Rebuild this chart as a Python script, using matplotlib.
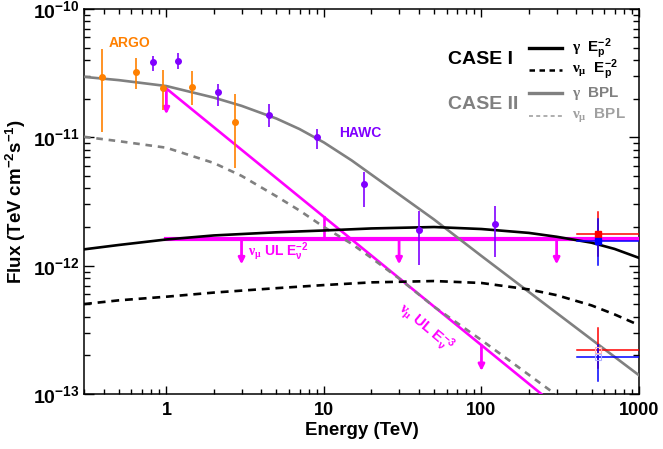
import numpy as np
import matplotlib
matplotlib.use('Agg')
import matplotlib.pyplot as plt
from matplotlib.ticker import FixedLocator, FixedFormatter, LogLocator, NullFormatter

plt.rcParams['font.family'] = 'Liberation Sans'
plt.rcParams['font.weight'] = 'bold'
plt.rcParams['mathtext.fontset'] = 'custom'
plt.rcParams['mathtext.rm'] = 'Liberation Serif'
plt.rcParams['mathtext.it'] = 'Liberation Serif:italic'
plt.rcParams['mathtext.bf'] = 'Liberation Sans:bold'
plt.rcParams['mathtext.sf'] = 'Liberation Sans'

# ---- data (E in TeV, flux in TeV cm^-2 s^-1) ----
argo_E = [0.39, 0.644, 0.947, 1.45, 2.74]
argo_F = [2.94e-11, 3.25e-11, 2.41e-11, 2.47e-11, 1.31e-11]
argo_lo = [1.11e-11, 2.37e-11, 1.63e-11, 1.79e-11, 5.73e-12]
argo_hi = [4.85e-11, 4.13e-11, 3.35e-11, 3.29e-11, 2.16e-11]

hawc_E = [0.822, 1.18, 2.13, 4.48, 9.1, 17.9, 40.1, 122]
hawc_F = [3.85e-11, 3.95e-11, 2.25e-11, 1.49e-11, 1.01e-11, 4.35e-12, 1.9e-12, 2.1e-12]
hawc_lo = [3.3e-11, 3.43e-11, 1.75e-11, 1.2e-11, 8.1e-12, 2.88e-12, 1.02e-12, 1.17e-12]
hawc_hi = [4.31e-11, 4.57e-11, 2.6e-11, 1.82e-11, 1.16e-11, 5.33e-12, 2.67e-12, 2.93e-12]

# gamma / neutrino model curves
gbpl_E = [0.3, 0.5, 1, 2, 3, 5, 7, 10, 15, 20, 30, 50, 100, 200, 500, 1000]
gbpl_F = [2.96e-11, 2.79e-11, 2.51e-11, 2.04e-11, 1.76e-11, 1.40e-11, 1.16e-11, 9.12e-12,
          6.61e-12, 5.13e-12, 3.59e-12, 2.29e-12, 1.19e-12, 6.24e-13, 2.66e-13, 1.40e-13]
nbpl_E = [0.3, 0.5, 1, 2, 3, 5, 7, 10, 15, 20, 30, 50, 100, 200, 300, 500]
nbpl_F = [1.01e-11, 9.33e-12, 8.3e-12, 6.31e-12, 5.01e-12, 3.47e-12, 2.69e-12, 2.0e-12,
          1.48e-12, 1.15e-12, 7.94e-13, 4.79e-13, 2.63e-13, 1.41e-13, 9.8e-14, 6.0e-14]
gpl_E = [0.3, 0.5, 1, 2, 5, 10, 20, 50, 100, 200, 300, 500, 700, 1000]
gpl_F = [1.34e-12, 1.45e-12, 1.6e-12, 1.72e-12, 1.82e-12, 1.88e-12, 1.95e-12, 2.0e-12,
         1.93e-12, 1.80e-12, 1.68e-12, 1.51e-12, 1.35e-12, 1.15e-12]
npl_E = [0.3, 0.5, 1, 2, 5, 10, 20, 50, 100, 200, 300, 500, 700, 1000]
npl_F = [5.02e-13, 5.37e-13, 5.73e-13, 6.17e-13, 6.68e-13, 7.06e-13, 7.41e-13, 7.59e-13,
         7.33e-13, 6.53e-13, 5.89e-13, 4.9e-13, 4.17e-13, 3.44e-13]

# neutrino upper limits
ul3_E = [1, 250]
ul3_F = [2.4e-11, 9.6e-14]
ul3_arrow_E = [1, 100]
ul2_E = [1, 1000]
ul2_F = [1.6e-12, 1.6e-12]
ul2_arrow_E = [3, 30, 300]

# high energy points (red / blue)
he_E = 548
he_xlo, he_xhi = 405, 1000
red_F, red_lo, red_hi = [1.77e-12, 2.22e-13], [1.2e-12, 1.6e-13], [2.63e-12, 3.24e-13]
blue_F, blue_lo, blue_hi = [1.56e-12, 1.95e-13], [1.02e-12, 1.27e-13], [2.3e-12, 2.4e-13]

orange = '#FF8000'
purple = '#8000FF'
mag = '#FF00FF'
grey = '#808080'

fig = plt.figure(figsize=(6.63, 4.49), dpi=100)
ax = fig.add_axes([84 / 663, 55 / 449, 555 / 663, 385 / 449])
ax.set_xscale('log')
ax.set_yscale('log')
ax.set_xlim(0.3, 1000)
ax.set_ylim(1e-13, 1e-10)


def ul3_at(e):
    k = np.log10(ul3_F[1] / ul3_F[0]) / np.log10(ul3_E[1] / ul3_E[0])
    return ul3_F[0] * (e / ul3_E[0]) ** k


# upper limits
ax.plot(ul3_E, ul3_F, color=mag, lw=1.9, zorder=3)
ax.plot(ul2_E, ul2_F, color=mag, lw=3.0, zorder=3)
ax.plot([10, 10], [ul2_F[0], ul3_at(10)], color=mag, lw=1.9, zorder=3)
for e in ul3_arrow_E:
    f0 = ul3_at(e)
    ax.annotate('', xy=(e, f0 * 0.63), xytext=(e, f0),
                arrowprops=dict(arrowstyle='-|>', color=mag, lw=2, mutation_scale=9,
                                shrinkA=0, shrinkB=0), zorder=3)
for e in ul2_arrow_E:
    ax.annotate('', xy=(e, ul2_F[0] * 0.64), xytext=(e, ul2_F[0]),
                arrowprops=dict(arrowstyle='-|>', color=mag, lw=2, mutation_scale=9,
                                shrinkA=0, shrinkB=0), zorder=3)

# model curves
ax.plot(gbpl_E, gbpl_F, color=grey, lw=1.9, zorder=4)
ax.plot(nbpl_E, nbpl_F, color=grey, lw=1.9, ls=(0, (2.5, 2.2)), zorder=4)
ax.plot(gpl_E, gpl_F, color='black', lw=1.9, zorder=4)
ax.plot(npl_E, npl_F, color='black', lw=1.9, ls=(0, (3.0, 2.2)), zorder=4)

# data
ax.errorbar(argo_E, argo_F,
            yerr=[np.array(argo_F) - np.array(argo_lo), np.array(argo_hi) - np.array(argo_F)],
            fmt='o', color=orange, ms=4, elinewidth=1.2, capsize=0, zorder=5)
ax.errorbar(hawc_E, hawc_F,
            yerr=[np.array(hawc_F) - np.array(hawc_lo), np.array(hawc_hi) - np.array(hawc_F)],
            fmt='o', color=purple, ms=4, elinewidth=1.2, capsize=0, zorder=5)

for F, lo, hi, c in [(red_F, red_lo, red_hi, 'red'), (blue_F, blue_lo, blue_hi, 'blue')]:
    for i in range(2):
        ax.plot([he_xlo, he_xhi], [F[i], F[i]], color=c, lw=1.1, zorder=6)
        ax.plot([he_E, he_E], [lo[i], hi[i]], color=c, lw=1.1, zorder=6)
    ax.plot([he_E], [F[0]], 's', color=c, ms=5, zorder=7)
    ax.plot([he_E], [F[1]], 's', mfc='none', mec='#FFB0B0' if c == 'red' else '#B0B0FF',
            ms=5, mew=0.8, zorder=7)

# labels on the plot
ax.text(0.584, 5.43e-11, 'ARGO', color=orange, fontsize=10, ha='center', va='center')
ax.text(17.0, 1.08e-11, 'HAWC', color=purple, fontsize=10, ha='center', va='center')
ax.text(3.3, 1.28e-12, r'$\mathrm{\nu_\mu}$ $\mathbf{UL\ E_\nu^{-2}}$', color=mag,
        fontsize=10, ha='left', va='center')
ax.text(44, 3.3e-13, r'$\mathrm{\nu_\mu}$ $\mathbf{UL\ E_\nu^{-3}}$', color=mag,
        fontsize=11, ha='center', va='center', rotation=-40, rotation_mode='anchor')

# legend drawn by hand
leg_y = [0.898, 0.842, 0.781, 0.722]
leg_col = ['black', 'black', grey, '#A8A8A8']
leg_ls = ['-', (0, (2.2, 1.8)), '-', (0, (2.2, 1.8))]
leg_lw = [2.4, 1.8, 2.4, 1.3]
leg_txt = [r'$\mathrm{\gamma}$  $\mathbf{E_p^{-2}}$', r'$\mathrm{\nu_\mu}$  $\mathbf{E_p^{-2}}$',
           r'$\mathrm{\gamma}$  BPL', r'$\mathrm{\nu_\mu}$  BPL']
txt_col = ['black', 'black', grey, '#A0A0A0']
for y, c, ls, lw, t, tc in zip(leg_y, leg_col, leg_ls, leg_lw, leg_txt, txt_col):
    ax.plot([0.802, 0.861], [y, y], color=c, ls=ls, lw=lw, transform=ax.transAxes, clip_on=False)
    ax.text(0.879, y, t, color=tc, fontsize=11, ha='left', va='center', transform=ax.transAxes)
ax.text(0.655, 0.868, 'CASE I', color='black', fontsize=14, ha='left', va='center', transform=ax.transAxes)
ax.text(0.655, 0.751, 'CASE II', color=grey, fontsize=14, ha='left', va='center', transform=ax.transAxes)

# axes styling
ax.xaxis.set_major_locator(FixedLocator([1, 10, 100, 1000]))
ax.xaxis.set_major_formatter(FixedFormatter(['1', '10', '100', '1000']))
ax.xaxis.set_minor_locator(LogLocator(base=10, subs=np.arange(2, 10), numticks=20))
ax.xaxis.set_minor_formatter(NullFormatter())
ax.yaxis.set_major_locator(FixedLocator([1e-13, 1e-12, 1e-11, 1e-10]))
ax.yaxis.set_major_formatter(FixedFormatter([r'$\mathbf{10^{-13}}$', r'$\mathbf{10^{-12}}$',
                                             r'$\mathbf{10^{-11}}$', r'$\mathbf{10^{-10}}$']))
ax.yaxis.set_minor_locator(LogLocator(base=10, subs=np.arange(2, 10), numticks=20))
ax.yaxis.set_minor_formatter(NullFormatter())
ax.tick_params(which='both', direction='in', top=True, right=True, width=1.0)
ax.tick_params(axis='x', which='major', length=6, labelsize=13, pad=6)
ax.tick_params(axis='x', which='minor', length=3.5)
ax.tick_params(axis='y', which='major', length=7.5, labelsize=14, pad=3)
ax.tick_params(axis='y', which='minor', length=4.5)
for s in ax.spines.values():
    s.set_linewidth(1.1)

ax.set_xlabel('Energy (TeV)', fontsize=13.5, fontweight='bold')
ax.set_ylabel(r'$\mathbf{Flux\ (TeV\ cm^{-2}s^{-1})}$', fontsize=13.5)
ax.xaxis.set_label_coords(0.5, -0.072)
ax.yaxis.set_label_coords(-0.10, 0.5)

fig.savefig('out.png', dpi=100)
